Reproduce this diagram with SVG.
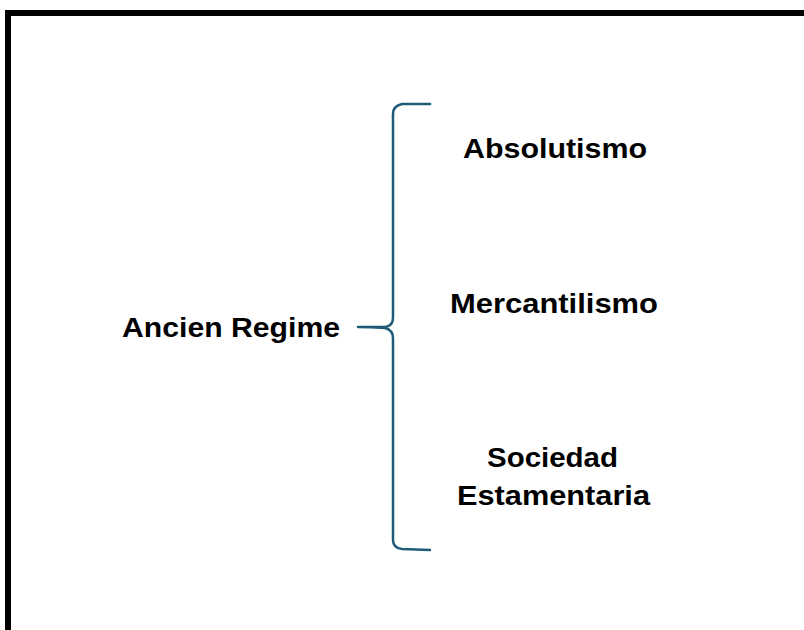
<svg xmlns="http://www.w3.org/2000/svg" width="804" height="630" viewBox="0 0 804 630">
<style>
.t{font-family:"Liberation Sans",Arial,sans-serif;font-weight:bold;font-size:27px;fill:#000}
.brace{fill:none;stroke:#1f5c78;stroke-width:2.5;stroke-linecap:round;stroke-linejoin:round}
</style>
<rect x="0" y="0" width="804" height="630" fill="#fff"/>
<rect x="8" y="13" width="820" height="640" fill="none" stroke="#000" stroke-width="6"/>
<g id="connectors">
<path class="brace" d="M430,104 L402,104 Q393,106 393,114 L393,318 Q393,326 385,327 Q370,327 358,327 Q370,327 385,328 Q393,330 393,338 L393,540 Q393,548 402,549 L430,550"/>
</g>
<g id="ancien"><text class="t" x="122" y="337" textLength="218" lengthAdjust="spacingAndGlyphs">Ancien Regime</text></g>
<g id="absolutismo"><text class="t" x="463" y="158" textLength="184" lengthAdjust="spacingAndGlyphs">Absolutismo</text></g>
<g id="mercantilismo"><text class="t" x="450" y="313" textLength="208" lengthAdjust="spacingAndGlyphs">Mercantilismo</text></g>
<g id="sociedad">
<text class="t" x="487" y="467" textLength="131" lengthAdjust="spacingAndGlyphs">Sociedad</text>
<text class="t" x="457" y="505" textLength="193" lengthAdjust="spacingAndGlyphs">Estamentaria</text>
</g>
</svg>
